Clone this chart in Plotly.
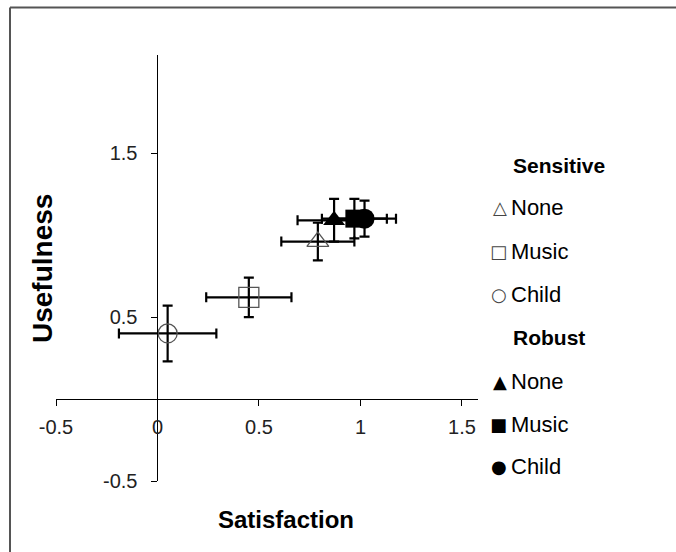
import plotly.graph_objects as go

# ---- data ----
conditions = ["None", "Music", "Child"]
sens_sat = [0.79, 0.45, 0.05]
sens_use = [0.96, 0.62, 0.40]
sens_sat_err = [0.18, 0.21, 0.24]
sens_use_err = [0.115, 0.12, 0.17]

rob_sat = [0.87, 0.97, 1.02]
rob_use = [1.09, 1.10, 1.10]
rob_sat_err = [0.18, 0.16, 0.155]
rob_use_err = [0.13, 0.12, 0.11]

x_ticks = [-0.5, 0, 0.5, 1, 1.5]
x_tick_labels = ["-0.5", "0", "0.5", "1", "1.5"]
y_ticks = [-0.5, 0.5, 1.5]
y_tick_labels = ["-0.5", "0.5", "1.5"]

sens_symbols = ["triangle-up-open", "square-open", "circle-open"]
rob_symbols = ["triangle-up", "square", "circle"]
sens_glyphs = ["△", "□", "○"]
rob_glyphs = ["▲", "■", "●"]
sens_sizes = [19, 20, 19]
rob_sizes = [19, 18, 20]

OFF = 0  # body margin removed via post_script
W, H = 676, 552
PL, PR, PT, PB = 56, 478, 55, 481  # plot area in page pixels
ML, MT = PL - OFF, PT - OFF
MR = W - (PR - OFF)
MB = H - (PB - OFF)
XR = [-0.5, 1.579]
YR = [-0.5, 2.098]

def xp(px):
    return (px - PL) / (PR - PL)

def yp(py):
    return (PB - py) / (PB - PT)

FONT = "Liberation Sans, Arial, sans-serif"

fig = go.Figure()

for i, c in enumerate(conditions):
    fig.add_trace(go.Scatter(
        x=[sens_sat[i]], y=[sens_use[i]], mode="markers",
        marker=dict(symbol=sens_symbols[i], size=sens_sizes[i],
                    color="#555555", line=dict(color="#555555", width=1.3)),
        error_x=dict(type="data", array=[sens_sat_err[i]], color="black", thickness=2.2, width=5),
        error_y=dict(type="data", array=[sens_use_err[i]], color="black", thickness=2.2, width=5),
        showlegend=False, name="Sensitive " + c))

for i, c in enumerate(conditions):
    fig.add_trace(go.Scatter(
        x=[rob_sat[i]], y=[rob_use[i]], mode="markers",
        marker=dict(symbol=rob_symbols[i], size=rob_sizes[i], color="black",
                    line=dict(width=0)),
        error_x=dict(type="data", array=[rob_sat_err[i]], color="black", thickness=2.2, width=5),
        error_y=dict(type="data", array=[rob_use_err[i]], color="black", thickness=2.2, width=5),
        showlegend=False, name="Robust " + c))

annotations = []
legend_rows = [("Sensitive", None, 165)] + \
    [(c, sens_glyphs[i], y) for i, (c, y) in enumerate(zip(conditions, [208, 251, 294]))] + \
    [("Robust", None, 338)] + \
    [(c, rob_glyphs[i], y) for i, (c, y) in enumerate(zip(conditions, [381, 424, 466]))]
for label, glyph, ypx in legend_rows:
    if glyph is None:
        annotations.append(dict(text="<b>" + label + "</b>", x=xp(511), y=yp(ypx),
                                xref="paper", yref="paper", xanchor="left", yanchor="middle",
                                showarrow=False, font=dict(family=FONT, size=21, color="black")))
    else:
        annotations.append(dict(text=glyph, x=xp(509), y=yp(ypx),
                                xref="paper", yref="paper", xanchor="right", yanchor="middle",
                                showarrow=False, font=dict(family="DejaVu Sans", size=18,
                                                           color="#444444" if glyph in sens_glyphs else "black")))
        annotations.append(dict(text=label, x=xp(509), y=yp(ypx),
                                xref="paper", yref="paper", xanchor="left", yanchor="middle",
                                showarrow=False, font=dict(family=FONT, size=22, color="black")))

annotations.append(dict(text="<b>Satisfaction</b>", x=xp(286), y=yp(519), xref="paper", yref="paper",
                        xanchor="center", yanchor="middle", showarrow=False,
                        font=dict(family=FONT, size=24, color="black")))
annotations.append(dict(text="<b>Usefulness</b>", x=xp(42), y=yp(269), xref="paper", yref="paper",
                        xanchor="center", yanchor="middle", showarrow=False, textangle=-90,
                        font=dict(family=FONT, size=28, color="black")))

border = dict(color="#555555", width=2)
fig.update_layout(
    width=W, height=H,
    margin=dict(l=ML, r=MR, t=MT, b=MB, pad=0),
    paper_bgcolor="white", plot_bgcolor="white",
    font=dict(family=FONT, size=20, color="#222222"),
    annotations=annotations,
    shapes=[dict(type="line", xref="paper", yref="paper",
                 x0=xp(10), y0=yp(7.5), x1=xp(900), y1=yp(7.5), line=border, layer="below"),
            dict(type="line", xref="paper", yref="paper",
                 x0=xp(10), y0=yp(7.5), x1=xp(10), y1=yp(700), line=border, layer="below")],
    xaxis=dict(range=XR, tickvals=x_ticks, ticktext=x_tick_labels,
               showgrid=False, zeroline=False, showline=True, linecolor="black", linewidth=1,
               ticks="outside", ticklen=6, tickcolor="black", anchor="free",
               position=(0 - YR[0]) / (YR[1] - YR[0]), ticklabelstandoff=4,
               tickfont=dict(family=FONT, size=20, color="#222222")),
    yaxis=dict(range=YR, tickvals=y_ticks, ticktext=y_tick_labels,
               showgrid=False, zeroline=False, showline=True, linecolor="black", linewidth=1,
               ticks="outside", ticklen=6, tickcolor="black", anchor="free",
               position=(0 - XR[0]) / (XR[1] - XR[0]), ticklabelstandoff=10,
               tickfont=dict(family=FONT, size=20, color="#222222")),
)

fig.write_html("out.html", config={"displayModeBar": False},
               post_script="document.body.style.margin='0';document.body.style.overflow='hidden';")
